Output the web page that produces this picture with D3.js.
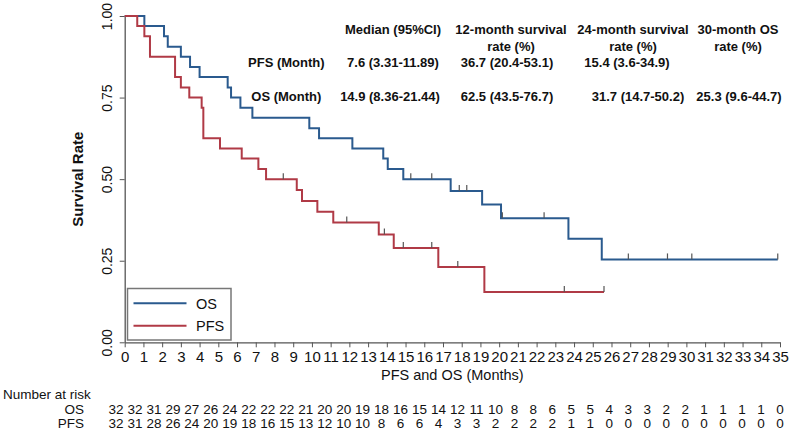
<!DOCTYPE html>
<html><head><meta charset="utf-8">
<script src="https://cdn.jsdelivr.net/npm/d3@7"></script>
<style>
html,body{margin:0;padding:0;background:#fff;}
svg{display:block;font-family:"Liberation Sans",Arial,sans-serif;}
</style></head>
<body><svg id="c" width="790" height="440"></svg>
<script>
// ---- data ----
const xTicks = d3.range(0, 36);
const yTicks = [0, 0.25, 0.5, 0.75, 1];

const osTimes = [0, 1.05, 2.10, 2.30, 3.00, 3.49, 4.00, 5.50, 5.68, 6.18, 6.82, 9.86, 10.38, 12.16, 13.81, 14.05, 14.88, 17.41, 19.09, 20.10, 23.70, 25.48];
const osSurv  = [1, 0.969, 0.938, 0.906, 0.875, 0.844, 0.813, 0.781, 0.750, 0.719, 0.688, 0.656, 0.625, 0.594, 0.563, 0.531, 0.500, 0.464, 0.422, 0.380, 0.317, 0.254];
const osEnd = 34.88;
const osCensor = [15.28, 16.40, 17.87, 18.27, 20.17, 22.40, 26.90, 28.99, 30.29, 34.88];

const pfsTimes = [0, 0.67, 1.05, 1.35, 2.69, 3.00, 3.45, 4.11, 4.20, 5.09, 6.25, 7.14, 7.55, 9.19, 9.47, 10.29, 11.14, 13.57, 14.37, 16.75, 19.21];
const pfsSurv  = [1, 0.969, 0.938, 0.875, 0.813, 0.781, 0.750, 0.719, 0.625, 0.594, 0.563, 0.531, 0.500, 0.467, 0.433, 0.400, 0.367, 0.330, 0.289, 0.231, 0.154];
const pfsEnd = 25.60;
const pfsCensor = [8.47, 11.86, 13.87, 14.88, 16.40, 17.79, 23.48, 25.60];

const riskOS  = [32,32,31,29,27,26,24,22,22,22,21,20,20,19,18,16,15,14,12,11,10,8,8,6,5,5,4,3,3,2,2,1,1,1,1,0];
const riskPFS = [32,31,28,26,24,20,19,18,16,15,13,12,10,10,8,6,6,4,3,3,2,2,2,2,1,1,0,0,0,0,0,0,0,0,0,0];

const headCols = [["Median (95%CI)"], ["12-month survival", "rate (%)"], ["24-month survival", "rate (%)"], ["30-month OS", "rate (%)"]];
const rowLabels = ["PFS (Month)", "OS (Month)"];
const pfsStats = ["7.6 (3.31-11.89)", "36.7 (20.4-53.1)", "15.4 (3.6-34.9)", ""];
const osStats  = ["14.9 (8.36-21.44)", "62.5 (43.5-76.7)", "31.7 (14.7-50.2)", "25.3 (9.6-44.7)"];

// ---- layout ----
const BLUE = "#2a5a8e", RED = "#b03a46", AX = "#555";
const svg = d3.select("#c");
const x = d3.scaleLinear([0, 35], [124.7, 780]);
const y = d3.scaleLinear([0, 1], [342.3, 16]);
const xRisk = d3.scaleLinear([0, 35], [116, 780]);

// axes
const gx = svg.append("g").attr("transform", `translate(0,${y(0)})`)
  .call(d3.axisBottom(x).tickValues(xTicks).tickFormat(d3.format("d")).tickSize(5).tickSizeOuter(0).tickPadding(4));
gx.select(".domain").attr("stroke", AX).attr("stroke-width", 1.3);
gx.selectAll(".tick line").attr("stroke", AX);
gx.selectAll(".tick text").attr("font-size", 15).attr("fill", "#111").attr("font-family", "Liberation Sans, Arial, sans-serif");

const gy = svg.append("g").attr("transform", `translate(${x(0)},0)`)
  .call(d3.axisLeft(y).tickValues(yTicks).tickFormat(d3.format(".2f")).tickSize(5).tickSizeOuter(0));
gy.select(".domain").attr("stroke", AX).attr("stroke-width", 1.3);
gy.selectAll(".tick line").attr("stroke", AX);
gy.selectAll(".tick text").attr("x", null).attr("dy", null)
  .attr("transform", "translate(-13,0) rotate(-90)").attr("text-anchor", "middle")
  .attr("font-size", 14).attr("fill", "#111").attr("font-family", "Liberation Sans, Arial, sans-serif");

svg.append("text").attr("transform", `translate(83,${(y(0) + y(1)) / 2}) rotate(-90)`)
  .attr("text-anchor", "middle").attr("font-size", 15).attr("font-weight", "bold").attr("fill", "#111")
  .text("Survival Rate");
svg.append("text").attr("x", (x(0) + x(35)) / 2).attr("y", 380).attr("text-anchor", "middle")
  .attr("font-size", 14.5).attr("fill", "#111").text("PFS and OS (Months)");

// curves
const line = d3.line().x(d => x(d[0])).y(d => y(d[1])).curve(d3.curveStepAfter);
function curve(times, surv, end, censor, color) {
  const pts = times.map((t, i) => [t, surv[i]]);
  pts.push([end, surv[surv.length - 1]]);
  svg.append("path").attr("d", line(pts)).attr("fill", "none").attr("stroke", color)
    .attr("stroke-width", 2).attr("stroke-linejoin", "miter");
  const at = t => surv[Math.max(0, d3.bisectRight(times, t) - 1)];
  svg.append("g").selectAll("line").data(censor).join("line")
    .attr("x1", d => x(d)).attr("x2", d => x(d))
    .attr("y1", d => y(at(d)) - 6).attr("y2", d => y(at(d)))
    .attr("stroke", "#555").attr("stroke-width", 1.2);
}
curve(osTimes, osSurv, osEnd, osCensor, BLUE);
curve(pfsTimes, pfsSurv, pfsEnd, pfsCensor, RED);

// legend
const lg = svg.append("g");
lg.append("rect").attr("x", 127.5).attr("y", 288.5).attr("width", 103.5).attr("height", 51.5)
  .attr("fill", "#fff").attr("stroke", "#777").attr("stroke-width", 1.5);
[["OS", BLUE, 303.3], ["PFS", RED, 325.7]].forEach(([lab, col, yy]) => {
  lg.append("line").attr("x1", 133.5).attr("x2", 186.5).attr("y1", yy).attr("y2", yy).attr("stroke", col).attr("stroke-width", 2);
  lg.append("text").attr("x", 196).attr("y", yy + 5.5).attr("font-size", 14.5).attr("fill", "#111").text(lab);
});

// statistics table
const headX = [393, 511, 633, 738];
const valX = [[393, 507, 627, 739], [390, 507, 638, 739]];
const tb = svg.append("g").attr("font-size", 13).attr("font-weight", "bold").attr("fill", "#111").attr("text-anchor", "middle");
headCols.forEach((lines, i) => lines.forEach((s, j) =>
  tb.append("text").attr("x", headX[i]).attr("y", 34 + j * 17).text(s)));
const rowY = [66.5, 101];
rowLabels.forEach((s, i) => tb.append("text").attr("x", 286.3).attr("y", rowY[i]).text(s));
[pfsStats, osStats].forEach((row, r) => row.forEach((s, i) =>
  tb.append("text").attr("x", valX[r][i]).attr("y", rowY[r]).text(s)));

// number at risk
const rk = svg.append("g").attr("font-size", 13.5).attr("fill", "#111");
rk.append("text").attr("x", 3).attr("y", 399).text("Number at risk");
[["OS", riskOS, 414], ["PFS", riskPFS, 428]].forEach(([lab, arr, yy]) => {
  rk.append("text").attr("x", 84).attr("y", yy).attr("text-anchor", "end").text(lab);
  rk.append("g").selectAll("text").data(arr).join("text")
    .attr("x", (d, i) => xRisk(xTicks[i])).attr("y", yy).attr("text-anchor", "middle").text(d => d);
});
</script></body></html>
